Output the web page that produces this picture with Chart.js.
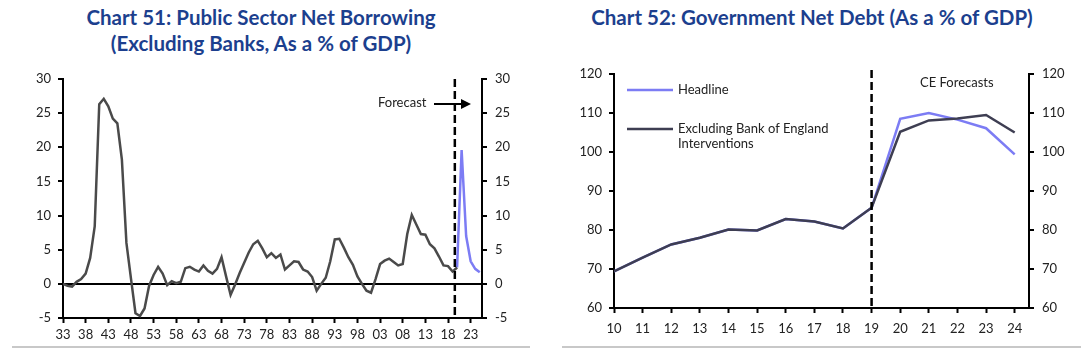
<!DOCTYPE html>
<html lang="en">
<head>
<meta charset="UTF-8">
<title>Public Sector Net Borrowing / Government Net Debt</title>
<script src="https://cdn.jsdelivr.net/npm/chart.js"></script>
<style>
  * { margin: 0; padding: 0; box-sizing: border-box; }
  body { width: 1081px; height: 349px; background: #fff; position: relative; overflow: hidden; font-family: 'Lato', sans-serif; }
  .title { position: absolute; text-align: center; color: #1c3f8e; font-weight: bold; font-size: 20.5px; line-height: 26px; }
  .box { position: absolute; top: 0; height: 349px; }
  .sep { position: absolute; top: 346px; height: 2px; background: #c8c8c8; }
</style>
</head>
<body>
  <div class="title" style="left:0; width:522px; top:4px;">Chart 51: Public Sector Net Borrowing<br>(Excluding Banks, As a % of GDP)</div>
  <div class="title" style="left:540px; width:544px; top:4px;">Chart 52: Government Net Debt (As a % of GDP)</div>

  <div class="box" style="left:0; width:540px;"><canvas id="borrowChart"></canvas></div>
  <div class="box" style="left:540px; width:541px;"><canvas id="debtChart"></canvas></div>

  <div class="sep" style="left:12px; width:518px;"></div>
  <div class="sep" style="left:562px; width:519px;"></div>

<script>
// ---- Chart 51 data ----
const borrowFirstYear = 1933;
const borrowActual = [
  0, -0.3, -0.4, 0.3, 0.7, 1.5, 3.8, 8.4, 26.3, 27.1,      // 1933-42
  26.0, 24.2, 23.5, 18.2, 6.0, 0.8, -4.3, -4.7, -3.6, -0.3, // 1943-52
  1.3, 2.5, 1.5, -0.2, 0.4, 0.1, 0.3, 2.3, 2.5, 2.1,        // 1953-62
  1.8, 2.7, 1.9, 1.5, 2.2, 3.9, 1.1, -1.6, -0.1, 1.6,       // 1963-72
  3.1, 4.6, 5.8, 6.3, 5.2, 3.9, 4.5, 3.8, 4.3, 2.1,         // 1973-82
  2.7, 3.3, 3.2, 2.1, 1.8, 1.0, -1.0, 0.0, 0.9, 3.3,        // 1983-92
  6.5, 6.6, 5.3, 3.9, 2.8, 1.1, 0.0, -1.0, -1.3, 0.7,       // 1993-02
  2.9, 3.4, 3.7, 3.2, 2.7, 2.9, 7.3, 10.1, 8.7, 7.3,        // 2003-12
  7.2, 5.8, 5.2, 4.0, 2.7, 2.6, 1.8, 2.4                    // 2013-20
];
const forecastFirstYear = 2020;
const borrowForecast = [2.4, 19.6, 7.0, 3.3, 2.2, 1.7];     // 2020-25
const borrowTickYears = [1933, 1938, 1943, 1948, 1953, 1958, 1963, 1968, 1973, 1978,
                         1983, 1988, 1993, 1998, 2003, 2008, 2013, 2018, 2023];

// ---- Chart 52 data ----
const debtYears = [10, 11, 12, 13, 14, 15, 16, 17, 18, 19, 20, 21, 22, 23, 24];
const debtHeadline = [69.4, 72.9, 76.3, 78.0, 80.1, 79.9, 82.8, 82.2, 80.4, 85.7, 108.5, 110.0, 108.3, 106.1, 99.4];
const debtExclBoE  = [69.4, 72.9, 76.3, 78.0, 80.1, 79.9, 82.8, 82.2, 80.4, 85.7, 105.2, 108.1, 108.6, 109.5, 105.0];

const INK = '#222';
const PURPLE = '#7c7cf4';
const FONT = { family: 'Lato', size: 13 };

Chart.defaults.font.family = 'Lato';
Chart.defaults.color = INK;

function yAxis(position, min, max, step, width, zeroLine) {
  return {
    type: 'linear', position, min, max,
    ticks: { stepSize: step, font: FONT, color: INK, padding: position === 'left' ? 7 : 8 },
    grid: {
      drawOnChartArea: !!zeroLine,
      color: ctx => (zeroLine && ctx.tick && ctx.tick.value === 0) ? '#000' : 'rgba(0,0,0,0)',
      lineWidth: 2, tickLength: 5, tickColor: '#000', tickWidth: 2
    },
    border: { color: '#000', width: 2 },
    afterFit: s => { s.width = width; }
  };
}

// vertical dashed forecast line + text annotations
const annotate = {
  id: 'annotate',
  afterDatasetsDraw(chart, args, opts) {
    const { ctx, chartArea, scales } = chart;
    const x = scales.x.getPixelForValue(opts.lineAt);
    ctx.save();
    ctx.strokeStyle = '#000';
    ctx.lineWidth = 2.5;
    ctx.setLineDash([8, 4]);
    ctx.beginPath();
    ctx.moveTo(x, chartArea.top - (opts.lineOver || 0));
    ctx.lineTo(x, chartArea.bottom);
    ctx.stroke();
    ctx.setLineDash([]);
    ctx.font = '13px Lato';
    ctx.fillStyle = INK;
    ctx.textBaseline = 'middle';
    (opts.texts || []).forEach(t => ctx.fillText(t.text, t.x, t.y));
    if (opts.arrow) {
      const a = opts.arrow;
      ctx.lineWidth = 2;
      ctx.beginPath();
      ctx.moveTo(a.x1, a.y);
      ctx.lineTo(a.x2 - 8, a.y);
      ctx.stroke();
      ctx.fillStyle = '#000';
      ctx.beginPath();
      ctx.moveTo(a.x2, a.y);
      ctx.lineTo(a.x2 - 10, a.y - 5);
      ctx.lineTo(a.x2 - 10, a.y + 5);
      ctx.closePath();
      ctx.fill();
    }
    (opts.legend || []).forEach(l => {
      ctx.strokeStyle = l.color;
      ctx.lineWidth = 2.5;
      ctx.beginPath();
      ctx.moveTo(l.x, l.y);
      ctx.lineTo(l.x + 46, l.y);
      ctx.stroke();
      ctx.fillStyle = INK;
      l.lines.forEach((s, i) => ctx.fillText(s, l.x + 51, l.y + i * 15));
    });
    ctx.restore();
  }
};

new Chart(document.getElementById('borrowChart'), {
  type: 'line',
  data: {
    datasets: [
      {
        label: 'Actual',
        data: borrowActual.map((v, i) => ({ x: borrowFirstYear + i, y: v })),
        borderColor: '#4a4a4a', borderWidth: 2.5, pointRadius: 0, tension: 0
      },
      {
        label: 'Forecast',
        data: borrowForecast.map((v, i) => ({ x: forecastFirstYear + i, y: v })),
        borderColor: PURPLE, borderWidth: 2.5, pointRadius: 0, tension: 0
      }
    ]
  },
  options: {
    responsive: true, maintainAspectRatio: false, animation: false,
    layout: { padding: { top: 79, left: 0, right: 0, bottom: 0 } },
    plugins: {
      legend: { display: false }, tooltip: { enabled: false },
      annotate: {
        lineAt: 2019.5,
        texts: [{ text: 'Forecast', x: 378, y: 103 }],
        arrow: { x1: 434, x2: 471, y: 104 }
      }
    },
    scales: {
      x: {
        type: 'linear', min: 1933, max: 2025.5,
        afterBuildTicks: s => { s.ticks = borrowTickYears.map(v => ({ value: v })); },
        ticks: { font: FONT, color: INK, maxRotation: 0, autoSkip: false, padding: 4,
                 callback: v => String(v).slice(-2) },
        grid: { drawOnChartArea: false, tickLength: 5, tickColor: '#000', tickWidth: 2 },
        border: { color: '#000', width: 2 },
        afterFit: s => { s.height = 31; }
      },
      y: yAxis('left', -5, 30, 5, 63, true),
      y2: yAxis('right', -5, 30, 5, 58, false)
    }
  },
  plugins: [annotate]
});

new Chart(document.getElementById('debtChart'), {
  type: 'line',
  data: {
    datasets: [
      {
        label: 'Excluding Bank of England Interventions',
        data: debtExclBoE.map((v, i) => ({ x: debtYears[i], y: v })),
        borderColor: '#3e3e52', borderWidth: 2.5, pointRadius: 0, tension: 0
      },
      {
        label: 'Headline',
        data: debtHeadline.map((v, i) => ({ x: debtYears[i], y: v })),
        borderColor: PURPLE, borderWidth: 2.5, pointRadius: 0, tension: 0
      }
    ]
  },
  options: {
    responsive: true, maintainAspectRatio: false, animation: false,
    layout: { padding: { top: 74, left: 0, right: 0, bottom: 0 } },
    plugins: {
      legend: { display: false }, tooltip: { enabled: false },
      annotate: {
        lineAt: 19, lineOver: 4,
        texts: [{ text: 'CE Forecasts', x: 380, y: 83 }],
        legend: [
          { color: PURPLE, x: 87, y: 90, lines: ['Headline'] },
          { color: '#3e3e52', x: 87, y: 129, lines: ['Excluding Bank of England', 'Interventions'] }
        ]
      }
    },
    scales: {
      x: {
        type: 'linear', min: 10, max: 24.5,
        afterBuildTicks: s => { s.ticks = debtYears.map(v => ({ value: v })); },
        ticks: { font: FONT, color: INK, maxRotation: 0, autoSkip: false, padding: 8 },
        grid: { drawOnChartArea: false, tickLength: 5, tickColor: '#000', tickWidth: 2 },
        border: { color: '#000', width: 2 },
        afterFit: s => { s.height = 41; }
      },
      y: yAxis('left', 60, 120, 10, 74, false),
      y2: yAxis('right', 60, 120, 10, 52, false)
    }
  },
  plugins: [annotate]
});
</script>
</body>
</html>
